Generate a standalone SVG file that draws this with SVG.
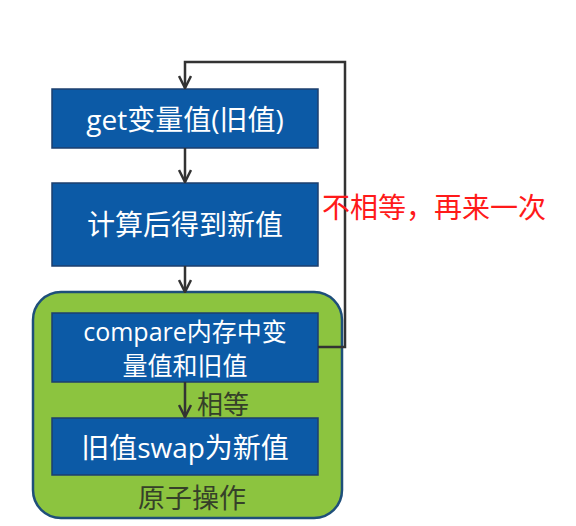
<svg xmlns="http://www.w3.org/2000/svg" width="576" height="526" viewBox="0 0 576 526">
<style>
.box{fill:#0c5aa6;stroke:#1c3f6e;stroke-width:1.5}
.bt{fill:#ffffff;font-family:"Open Sans","Noto Sans CJK SC",sans-serif;font-size:28px;text-anchor:middle;dominant-baseline:central}
.bt2{font-size:25px}
.ln{fill:none;stroke:#333333;stroke-width:2.5}
.lb{font-family:"Noto Sans CJK SC",sans-serif;dominant-baseline:central}
</style>
<defs>
<marker id="ah" viewBox="0 0 14 14" refX="13" refY="7" markerWidth="14" markerHeight="14" markerUnits="userSpaceOnUse" orient="auto">
<path d="M1,1 L13,7 L1,13" fill="none" stroke="#333333" stroke-width="2.5"/>
</marker>
</defs>
<rect width="576" height="526" fill="#ffffff"/>
<g id="atomic">
<rect x="33" y="292" width="309" height="226" rx="28" fill="#8cc43f" stroke="#1e4f7a" stroke-width="2.5"/>
<text class="lb" x="192" y="496" font-size="27" fill="#354029" text-anchor="middle">原子操作</text>
</g>
<g id="get">
<rect class="box" x="52" y="89" width="266" height="59"/>
<text class="bt" x="185" y="119">get变量值(旧值)</text>
</g>
<g id="calc">
<rect class="box" x="52" y="183" width="266" height="83"/>
<text class="bt" x="185" y="224">计算后得到新值</text>
</g>
<g id="compare">
<rect class="box" x="52" y="313" width="266" height="69"/>
<text class="bt bt2" x="185" y="331">compare内存中变</text>
<text class="bt bt2" x="185" y="365">量值和旧值</text>
</g>
<g id="swap">
<rect class="box" x="52" y="418" width="266" height="57"/>
<text class="bt" x="185" y="447">旧值swap为新值</text>
</g>
<g id="connectors">
<path class="ln" d="M185,148 V182" marker-end="url(#ah)"/>
<path class="ln" d="M185,266 V292" marker-end="url(#ah)"/>
<path class="ln" d="M185,382 V417" marker-end="url(#ah)"/>
<path class="ln" d="M318,347 H345 V62 H185 V88" marker-end="url(#ah)"/>
<text class="lb" x="197" y="402" font-size="26" fill="#354029">相等</text>
<text class="lb" x="322" y="206" font-size="28" fill="#ff1a1a">不相等，再来一次</text>
</g>
</svg>
